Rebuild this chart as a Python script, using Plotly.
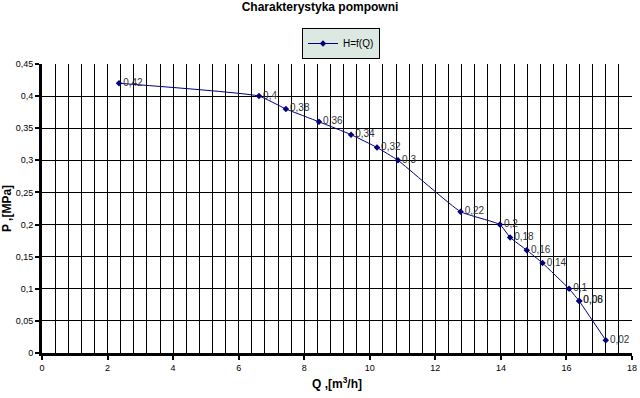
import plotly.graph_objects as go

Q = [2.35, 6.62, 7.44, 8.45, 9.43, 10.22, 10.86, 12.77, 13.97, 14.28, 14.79, 15.27, 16.08, 16.39, 16.39, 17.2]
P = [0.42, 0.40, 0.38, 0.36, 0.34, 0.32, 0.30, 0.22, 0.20, 0.18, 0.16, 0.14, 0.10, 0.081, 0.081, 0.02]
labels = ["0,42", "0,4", "0,38", "0,36", "0,34", "0,32", "0,3", "0,22", "0,2", "0,18", "0,16", "0,14", "0,1", "0,08", "0,06", "0,02"]

x_ticks = [0, 2, 4, 6, 8, 10, 12, 14, 16, 18]
y_ticks = [0, 0.05, 0.1, 0.15, 0.2, 0.25, 0.3, 0.35, 0.4, 0.45]
y_tick_text = ["0", "0,05", "0,1", "0,15", "0,2", "0,25", "0,3", "0,35", "0,4", "0,45"]

FONT = "Liberation Sans, Arial, sans-serif"

fig = go.Figure()
fig.add_trace(go.Scatter(
    x=Q, y=P, mode="lines+markers+text", name="H=f(Q)",
    text=labels, textposition="middle right",
    textfont=dict(family=FONT, size=10, color="#333333"),
    line=dict(color="#000080", width=1, shape="spline", smoothing=0.4),
    marker=dict(symbol="diamond", size=5, color="#000080"),
    cliponaxis=False,
))

fig.update_layout(
    width=640, height=398,
    margin=dict(l=42, r=8, t=64, b=45, autoexpand=False),
    paper_bgcolor="white", plot_bgcolor="white",
    separators=",.",
    font=dict(family=FONT, size=10, color="black"),
    title=dict(text="<b>Charakterystyka pompowni</b>", x=0.5, xanchor="center",
               yref="container", y=1 - 3 / 398, yanchor="top", font=dict(size=12, family=FONT)),
    showlegend=True,
    legend=dict(x=341 / 640, xref="container", xanchor="center", yref="container",
                y=1 - 28 / 398, yanchor="top", orientation="h",
                bgcolor="#dce8e2", bordercolor="black", borderwidth=1,
                font=dict(size=10, family=FONT), itemwidth=30),
    xaxis=dict(range=[0, 18], tickvals=x_ticks, ticktext=[str(v) for v in x_ticks],
               showgrid=True, gridcolor="black", gridwidth=1,
               minor=dict(dtick=0.4, tick0=0, showgrid=True, gridcolor="black", gridwidth=1),
               showline=True, linecolor="black", linewidth=3,
               ticks="outside", ticklen=4, tickwidth=2, tickcolor="black",
               zeroline=False, tickfont=dict(size=9), automargin=False,
               title=dict(text="<b>Q ,[m<sup>3</sup>/h]</b>", font=dict(size=12), standoff=8)),
    yaxis=dict(range=[0, 0.45], tickvals=y_ticks, ticktext=y_tick_text,
               showgrid=True, gridcolor="black", gridwidth=1,
               showline=True, linecolor="black", linewidth=3,
               ticks="outside", ticklen=4, tickwidth=2, tickcolor="black",
               zeroline=False, tickfont=dict(size=9), automargin=False,
               title=dict(text="<b>P ,[MPa]</b>", font=dict(size=12), standoff=4)),
)

fig.write_html("out.html", config={"displayModeBar": False},
               post_script="document.body.style.margin='0';")
